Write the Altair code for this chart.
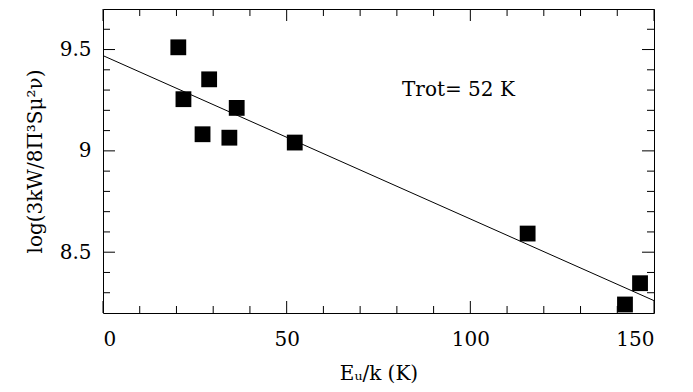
import altair as alt
import pandas as pd

# data
eu_k = [20.5, 21.9, 28.9, 27.1, 36.4, 34.4, 52.2, 115.6, 142.1, 146.2]
log_val = [9.511, 9.255, 9.353, 9.082, 9.212, 9.065, 9.041, 8.592, 8.242, 8.347]
fit_x = [0, 150]
fit_y = [9.47, 8.261]
label_text = ["Trot= 52 K"]
label_x = [81.4]
label_y = [9.30]
x_major = [0, 50, 100, 150]
x_minor = [v for v in range(0, 151, 10) if v % 50 != 0]
y_major = [8.5, 9.0, 9.5]
y_minor = [8.3, 8.4, 8.6, 8.7, 8.8, 8.9, 9.1, 9.2, 9.3, 9.4, 9.6]

W, H = 551, 304
FONT = "DejaVu Serif"

xs = alt.Scale(domain=[0, 150], nice=False, zero=False)
ys = alt.Scale(domain=[8.2, 9.7], nice=False, zero=False)

pts = pd.DataFrame({"x": eu_k, "y": log_val})
fit = pd.DataFrame({"x": fit_x, "y": fit_y})
lab = pd.DataFrame({"x": label_x, "y": label_y, "t": label_text})

base_x = alt.X("x:Q", scale=xs,
               axis=alt.Axis(values=x_major, title="Eᵤ/k (K)", labelPadding=16,
                             titlePadding=14, format="d"))
base_y = alt.Y("y:Q", scale=ys,
               axis=alt.Axis(values=y_major, title="log(3kW/8Π³Sμ²ν)", labelPadding=12,
                             titlePadding=14, labelExpr="datum.value == 9 ? '9' : format(datum.value, '.1f')"))

points = alt.Chart(pts).mark_square(size=250, color="black", opacity=1, filled=True).encode(
    x=base_x, y=base_y)

line = alt.Chart(fit).mark_line(color="black", strokeWidth=1).encode(
    x=alt.X("x:Q", scale=xs), y=alt.Y("y:Q", scale=ys))

text = alt.Chart(lab).mark_text(align="left", baseline="middle", font=FONT,
                                fontSize=20, color="black").encode(
    x=alt.X("x:Q", scale=xs), y=alt.Y("y:Q", scale=ys), text="t:N")


def xticks(vals, ln):
    df = pd.DataFrame({"x": vals})
    b = alt.Chart(df).mark_rule(color="black", strokeWidth=1).encode(
        x=alt.X("x:Q", scale=xs), y=alt.value(H), y2=alt.value(H - ln))
    t = alt.Chart(df).mark_rule(color="black", strokeWidth=1).encode(
        x=alt.X("x:Q", scale=xs), y=alt.value(0), y2=alt.value(ln))
    return [b, t]


def yticks(vals, ln):
    df = pd.DataFrame({"y": vals})
    l = alt.Chart(df).mark_rule(color="black", strokeWidth=1).encode(
        y=alt.Y("y:Q", scale=ys), x=alt.value(0), x2=alt.value(ln))
    r = alt.Chart(df).mark_rule(color="black", strokeWidth=1).encode(
        y=alt.Y("y:Q", scale=ys), x=alt.value(W), x2=alt.value(W - ln))
    return [l, r]


layers = [points, line, text] + xticks(x_major, 12) + xticks(x_minor, 7) + \
    yticks(y_major, 12) + yticks(y_minor, 7)

chart = alt.layer(*layers).properties(
    width=W, height=H,
    background="white",
    padding={"left": 95, "top": 1, "right": 31, "bottom": 71},
    autosize=alt.AutoSizeParams(type="none"),
).configure_view(stroke="black", strokeWidth=1).configure_axis(
    domain=False, ticks=False, grid=False,
    labelFont=FONT, labelFontSize=20, labelColor="black",
    titleFont=FONT, titleFontSize=20, titleColor="black", titleFontWeight="normal",
)

chart.save("out.html", embed_options={"renderer": "svg", "actions": False})
